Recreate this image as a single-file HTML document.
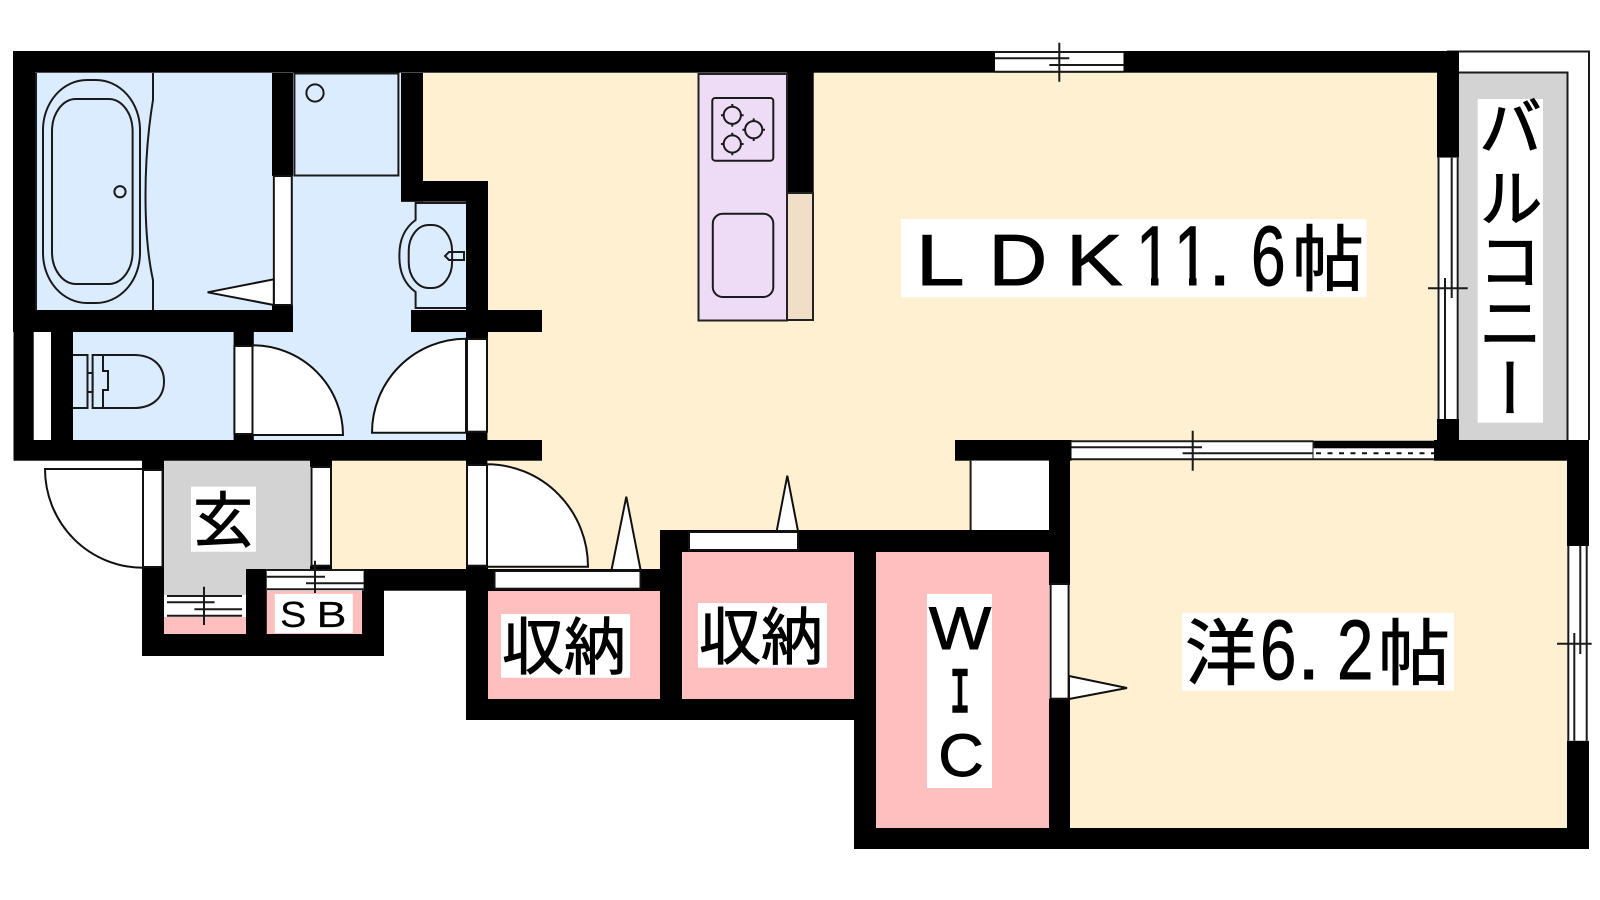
<!DOCTYPE html>
<html><head><meta charset="utf-8"><style>
html,body{margin:0;padding:0;background:#fff;width:1600px;height:900px;overflow:hidden}
svg{display:block}
text{font-family:"Liberation Sans","Noto Sans CJK JP",sans-serif;fill:#000;stroke:#000;stroke-width:.9}
.l{stroke:#1a1a1a;stroke-width:2;fill:none}
.d{stroke:#111;stroke-width:2;fill:#fff}
.b{fill:#000}
.j{font-family:"Noto Sans CJK JP","Liberation Sans",sans-serif;font-size:72px}
.v{font-family:"Noto Sans CJK JP",sans-serif;font-size:64px;writing-mode:vertical-rl;text-anchor:start;stroke-width:1.2}
</style></head><body>
<svg width="1600" height="900" viewBox="0 0 1600 900" xmlns="http://www.w3.org/2000/svg">
<rect width="1600" height="900" fill="#fff"/>
<polygon fill="#fef0d0" points="423,73 1437,73 1437,440 970.6,440 970.6,530 660,530 660,570 332,570 332,460 466,460 466,181 423,181"/>
<rect x="1070" y="460" width="497" height="368" fill="#fef0d0"/>
<rect x="35" y="73" width="237" height="237" fill="#dbecff"/>
<rect x="73" y="332" width="161" height="108" fill="#dbecff"/>
<polygon fill="#dbecff" points="293,73 401,73 401,201.7 466,201.7 466,440 253,440 253,332 293,332"/>
<rect x="488" y="591" width="172" height="108" fill="#ffbfbf"/>
<rect x="682" y="552" width="172" height="147" fill="#ffbfbf"/>
<rect x="876" y="552" width="173" height="276" fill="#ffbfbf"/>
<rect x="266.8" y="591" width="95.2" height="43" fill="#ffbfbf"/>
<rect x="164" y="617" width="82" height="17" fill="#ffbfbf"/>
<polygon fill="#d3d3d3" points="164,460 310,460 310,569 246,569 246,595 164,595"/>
<rect x="1459" y="72.7" width="108" height="368" fill="#d3d3d3"/>
<path class="l" d="M1447,51.5H1589V440M1459,72.5H1567.5V440"/>
<g class="b">
<rect x="13" y="51" width="1446" height="21.7"/>
<rect x="13" y="51" width="22" height="281"/>
<rect x="13.5" y="332" width="20.2" height="128"/>
<rect x="13" y="310" width="280" height="22"/>
<rect x="272" y="73" width="21" height="103"/>
<rect x="272" y="305" width="21" height="27"/>
<rect x="401" y="73" width="22" height="128.7"/>
<rect x="401" y="181" width="87" height="20.7"/>
<rect x="466" y="181" width="22" height="158"/>
<rect x="411" y="310" width="131" height="22"/>
<rect x="51" y="332" width="22" height="108"/>
<rect x="233.6" y="332" width="20.2" height="14"/>
<rect x="233.6" y="434" width="20.2" height="6"/>
<rect x="466" y="431.7" width="21.4" height="9"/>
<rect x="13.5" y="440" width="528.5" height="20.7"/>
<rect x="142" y="460" width="22" height="196"/>
<rect x="310" y="460" width="22" height="7"/>
<rect x="310" y="565.7" width="22" height="3.5"/>
<rect x="246" y="569" width="20.8" height="87"/>
<rect x="362" y="569" width="22" height="87"/>
<rect x="142" y="634" width="242" height="22"/>
<rect x="363" y="569" width="103" height="21.7"/>
<rect x="466" y="460" width="21.4" height="5"/>
<rect x="466" y="565" width="22" height="155"/>
<rect x="466" y="569" width="194" height="22"/>
<rect x="660" y="530" width="22" height="190"/>
<rect x="660" y="530" width="410" height="22"/>
<rect x="466" y="699" width="388" height="21"/>
<rect x="854" y="552" width="22" height="297"/>
<rect x="854" y="828" width="735" height="21"/>
<rect x="1049" y="460" width="21" height="125"/>
<rect x="1049" y="698.7" width="21" height="150"/>
<rect x="955" y="440" width="116.5" height="20.7"/>
<rect x="1313.5" y="440.7" width="120.5" height="8"/>
<rect x="1434" y="440" width="155" height="20.7"/>
<rect x="1437" y="51" width="22" height="106.7"/>
<rect x="1437" y="419" width="22" height="21"/>
<rect x="1567" y="460" width="22" height="86"/>
<rect x="1567" y="740.7" width="22" height="108"/>
<rect x="787" y="72" width="26.7" height="121"/>
</g>
<path class="l" d="M36,73V310"/>
<path class="l" d="M153,73V100C143,160 143,235 153,280V310"/>
<rect class="l" x="43" y="80" width="97" height="223" rx="44" ry="50"/>
<rect class="l" x="52" y="99" width="80.6" height="185" rx="24" ry="32"/>
<circle class="l" cx="120" cy="191.7" r="5.6"/>
<rect class="d" x="273.8" y="176" width="18" height="129"/>
<polygon class="d" points="207.6,292.3 273.8,279.3 273.8,305"/>
<rect class="l" x="294.4" y="73.5" width="104" height="102"/>
<circle class="l" cx="315" cy="93" r="8.6"/>
<path class="l" d="M466,203H415.6V220Q399,232 399.4,256Q399,280 415.6,292V308H466"/>
<rect class="l" x="408.7" y="225" width="43.4" height="63" rx="20" ry="26"/>
<path class="l" d="M464,252H449L445,256L449,260H464Z"/>
<path class="l" d="M73,355H87.5V408H73"/>
<path class="l" d="M87.5,373H92.6V392H87.5"/>
<path class="l" d="M92.6,355H134C152,355 164,365 164,381.5C164,398 152,408 134,408H92.6ZM103,355V371H108V390H103V408"/>
<rect class="d" x="234.4" y="346" width="18.1" height="88"/>
<path class="d" d="M252.5,345.3A90.5,90 0 0 1 343,435H252.5Z"/>
<rect class="d" x="467" y="339" width="20" height="92.7"/>
<path class="d" d="M466,338.7A94,94 0 0 0 372,432.7H466Z"/>
<rect class="d" x="467" y="465" width="20" height="100.7"/>
<path class="d" d="M487,464.3A101,102.4 0 0 1 588,566.7H487Z"/>
<rect class="d" x="143" y="470" width="19.5" height="97"/>
<path class="d" d="M143,469H45A98,98.7 0 0 0 143,567.7Z"/>
<rect class="d" x="311.5" y="467" width="19.5" height="98.7"/>
<rect class="d" x="494.5" y="571" width="146" height="17.7"/>
<polygon class="d" points="626.3,496.7 611.5,570 640.6,570"/>
<rect class="d" x="689" y="532" width="109" height="18"/>
<polygon class="d" points="787.3,475.7 776.7,531 798,531"/>
<rect class="d" x="1050.6" y="584" width="18" height="114.7"/>
<polygon class="d" points="1069,676 1127,688 1069,699"/>
<rect x="970.6" y="460.7" width="78.2" height="69.3" fill="#fff"/>
<path class="l" d="M970.6,460.7V530"/>
<rect x="266.8" y="569.5" width="96.8" height="21" fill="#fff"/>
<path class="l" d="M266.8,570H363.6M266.8,576.7H325M306,583.3H363.6M266.8,589.3H363.6M315,560.7V593"/>
<rect x="164" y="595" width="82" height="22" fill="#fff"/>
<path class="l" d="M167,596H242M167,602.3H214.6M194.4,609.3H242M167,615.7H242M204,586.7V625"/>
<rect x="995" y="51.5" width="128.5" height="21" fill="#fff"/>
<path class="l" d="M995,52H1123.5M995,58.3H1069.3M1049.3,65H1123.5M995,71.7H1123.5M1059.3,42.7V81.7"/>
<rect x="1438" y="157.7" width="21" height="261.3" fill="#fff"/>
<path class="l" d="M1438.5,157.7V419M1457.7,157.7V419M1445,278V419M1451.7,157.7V298M1428,288.3H1467.7"/>
<rect x="1071.5" y="440.7" width="242" height="18.6" fill="#fff"/>
<path class="l" d="M1071.5,441.3H1313.5M1071.5,447.3H1202M1182.6,453.3H1313.5M1071.5,459.3H1313.5M1192.7,430.7V470.7M1313.5,441V459"/>
<rect x="1313.5" y="448.3" width="120.5" height="11" fill="#fff"/>
<path class="l" d="M1313.5,459.3H1434"/>
<path d="M1316,453.3H1434" stroke="#111" stroke-width="2" stroke-dasharray="5 6.5" fill="none"/>
<rect x="1568" y="546" width="21" height="194.7" fill="#fff"/>
<path class="l" d="M1568.3,546V740.7M1586.7,546V740.7M1574.3,633V740.7M1580.3,546V654M1557,643.7H1591.7"/>
<rect x="698.5" y="74" width="88.5" height="246.5" fill="#eedcf7" stroke="#222" stroke-width="2"/>
<rect x="787" y="193" width="26" height="127" fill="#f0dfc6" stroke="#222" stroke-width="2"/>
<rect class="l" x="712.3" y="98" width="61" height="62.7" rx="3"/>
<rect class="l" x="712.8" y="213.7" width="60.5" height="83.3" rx="10"/>
<g class="l">
<circle cx="732.3" cy="115.3" r="8.6"/>
<path d="M732.3,104V107.5M732.3,123V126.6M721,115.3H724.5M740,115.3H743.6"/>
<circle cx="753.7" cy="129.7" r="8.6"/>
<path d="M753.7,118.4V122M753.7,137.5V141M742.4,129.7H746M761.5,129.7H765"/>
<circle cx="732.3" cy="144" r="8.6"/>
<path d="M732.3,132.7V136M732.3,152V155.3M721,144H724.5M740,144H743.6"/>
</g>
<rect x="901" y="219" width="465.7" height="78.3" fill="#fff"/>
<text transform="translate(915.8,285) scale(1.22,1)" font-size="72">L</text>
<text transform="translate(988.5,285) scale(1.13,1)" font-size="72">D</text>
<text transform="translate(1066,285) scale(1.18,1)" font-size="72">K</text>
<text transform="translate(1136,285) scale(.75,1)" font-size="84">1</text>
<text transform="translate(1174,285) scale(.75,1)" font-size="84">1</text>
<rect x="1138" y="278" width="13" height="8" fill="#fff"/>
<rect x="1158.5" y="278" width="13" height="8" fill="#fff"/>
<rect x="1176" y="278" width="13" height="8" fill="#fff"/>
<rect x="1196.5" y="278" width="13" height="8" fill="#fff"/>
<text x="1208" y="285" font-size="84">.</text>
<text transform="translate(1251,285) scale(.74,1)" font-size="84">6</text>
<text class="j" x="1292" y="285" lang="ja">帖</text>
<rect x="1182" y="612.7" width="272" height="78" fill="#fff"/>
<text class="j" x="1185" y="679" lang="ja">洋</text>
<text transform="translate(1260,679) scale(.78,1)" font-size="84">6</text>
<text x="1297" y="679" font-size="84">.</text>
<text transform="translate(1337,679) scale(.78,1)" font-size="84">2</text>
<text class="j" x="1378" y="679" lang="ja">帖</text>
<rect x="501" y="614" width="129" height="63.7" fill="#fff"/>
<text class="j" x="502" y="669" style="font-size:62px" lang="ja">収納</text>
<rect x="698" y="603" width="129" height="64.7" fill="#fff"/>
<text class="j" x="699" y="659" style="font-size:62px" lang="ja">収納</text>
<rect x="927" y="594" width="65" height="194" fill="#fff"/>
<text transform="translate(960,649) scale(1.1,1)" font-size="60" text-anchor="middle">W</text>
<text transform="translate(960,711.7) scale(.55,1)" font-size="63" text-anchor="middle" style="font-family:'Liberation Mono',monospace;stroke-width:2.5">I</text>
<text transform="translate(961,776) scale(1.05,1)" font-size="60" text-anchor="middle">C</text>
<rect x="191" y="486.7" width="65" height="65" fill="#fff"/>
<text class="j" x="193" y="542" style="font-size:60px" lang="ja">玄</text>
<rect x="274.8" y="594" width="78" height="39" fill="#fff"/>
<text transform="translate(280,627) scale(1.1,1)" font-size="36" style="stroke-width:.2">S</text>
<text transform="translate(316.5,627) scale(1.25,1)" font-size="36" style="stroke-width:.2">B</text>
<rect x="1477.7" y="99" width="65.3" height="323.7" fill="#fff"/>
<text class="v" x="1510.5" y="94" lang="ja">バ</text>
<text class="v" x="1510.5" y="165" lang="ja">ル</text>
<text class="v" x="1510.5" y="228" lang="ja">コ</text>
<text class="v" x="1510.5" y="290" lang="ja">ニ</text>
<text class="v" x="1510.5" y="356" lang="ja">ー</text>
</svg>
</body></html>
